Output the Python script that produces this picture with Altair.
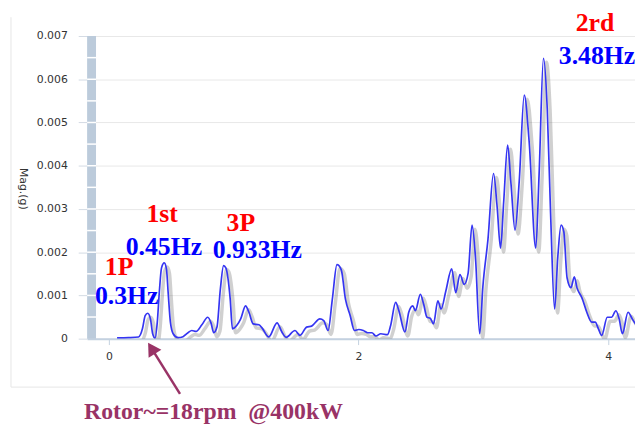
import altair as alt
import pandas as pd

# Spectrum (frequency in Hz, magnitude in g)
freq = [0.066, 0.158, 0.238, 0.269, 0.291, 0.311, 0.333, 0.351, 0.370, 0.388,
        0.404, 0.422, 0.444, 0.462, 0.475, 0.493, 0.515, 0.554, 0.594, 0.634,
        0.665, 0.699, 0.745, 0.792, 0.818, 0.840, 0.866, 0.893, 0.919, 0.937,
        0.972, 0.990, 1.024, 1.056, 1.095, 1.122, 1.156, 1.202, 1.228, 1.281,
        1.347, 1.386, 1.420, 1.491, 1.531, 1.584, 1.624, 1.690, 1.721, 1.756,
        1.790, 1.827, 1.861, 1.895, 1.933, 1.967, 2.002, 2.038, 2.073, 2.107,
        2.139, 2.178, 2.231, 2.257, 2.297, 2.323, 2.371, 2.402, 2.434, 2.455,
        2.495, 2.521, 2.548, 2.574, 2.600, 2.635, 2.661, 2.699, 2.746, 2.778,
        2.812, 2.846, 2.878, 2.909, 2.936, 2.970, 2.996, 3.036, 3.081, 3.110,
        3.137, 3.163, 3.194, 3.221, 3.253, 3.287, 3.327, 3.366, 3.419, 3.446,
        3.481, 3.511, 3.538, 3.570, 3.596, 3.622, 3.644, 3.670, 3.701, 3.728,
        3.749, 3.788, 3.828, 3.868, 3.895, 3.921, 3.947, 3.992, 4.026, 4.061,
        4.087, 4.113, 4.158, 4.192, 4.222]
mag = [0.000016, 0.000023, 0.000039, 0.000228, 0.000532, 0.000587, 0.000457, 0.000114, 0.000016, 0.000381,
       0.001066, 0.001637, 0.001751, 0.001598, 0.001066, 0.000381, 0.000114, 0.000023, 0.000046, 0.000137,
       0.000189, 0.000167, 0.000320, 0.000495, 0.000365, 0.000137, 0.000267, 0.001142, 0.001689, 0.001637,
       0.000913, 0.000228, 0.000304, 0.000457, 0.000760, 0.000610, 0.000342, 0.000320, 0.000244, 0.000039,
       0.000365, 0.000153, 0.000030, 0.000189, 0.000075, 0.000267, 0.000290, 0.000457, 0.000418, 0.000189,
       0.000913, 0.001712, 0.001598, 0.000913, 0.000532, 0.000189, 0.000212, 0.000189, 0.000137, 0.000137,
       0.000062, 0.000114, 0.000091, 0.000304, 0.000838, 0.000646, 0.000153, 0.000610, 0.000760, 0.000646,
       0.001027, 0.000799, 0.000495, 0.000473, 0.000342, 0.000874, 0.000685, 0.001103, 0.001614, 0.001066,
       0.001484, 0.001256, 0.001523, 0.002625, 0.001902, 0.000114, 0.001217, 0.002283, 0.003820, 0.003043,
       0.002094, 0.003196, 0.004475, 0.003577, 0.002511, 0.003653, 0.005632, 0.004566, 0.002094, 0.003806,
       0.006484, 0.005326, 0.002893, 0.000685, 0.001902, 0.002625, 0.002473, 0.001409, 0.001180, 0.001431,
       0.001180, 0.000952, 0.000610, 0.000381, 0.000381, 0.000228, 0.000075, 0.000495, 0.000495, 0.000646,
       0.000457, 0.000114, 0.000610, 0.000457, 0.000320]

y_ticks = [0, 0.001, 0.002, 0.003, 0.004, 0.005, 0.006, 0.007]
x_ticks = [0, 2, 4]
bar_marks = [0.0005, 0.001, 0.0015, 0.002, 0.0025, 0.003, 0.0035, 0.004,
             0.0045, 0.005, 0.0055, 0.006, 0.0065]

# Annotations
ann_text = ["1P", "0.3Hz", "1st", "0.45Hz", "3P", "0.933Hz", "2rd", "3.48Hz"]
ann_x = [-0.032, -0.111, 0.301, 0.135, 0.943, 0.832, 3.739, 3.604]
ann_y = [0.001480, 0.000799, 0.002700, 0.001941, 0.002500, 0.001872, 0.007123, 0.006347]
ann_color = ["#ff0000", "#0000ff", "#ff0000", "#0000ff", "#ff0000", "#0000ff", "#ff0000", "#0000ff"]

note_text = ["Rotor~=18rpm\u00a0\u00a0@400kW"]
note_x = [-0.198]
note_y = [-0.001860]

arrow_x = [0.570, 0.342]
arrow_y = [-0.001279, -0.000224]

W, H = 554, 306
x_scale = alt.Scale(domain=[-0.174, 4.214], nice=False, zero=False)
y_scale = alt.Scale(domain=[0, 0.007], nice=False, zero=False)

df = pd.DataFrame({"freq": freq, "mag": mag})
one = pd.DataFrame({"a": [0]})

x_axis = alt.Axis(values=x_ticks, grid=False, domainColor="#c3d1e0", domainWidth=2,
                  tickColor="#c3d1e0", tickSize=6, labelFont="DejaVu Sans", labelFontSize=11,
                  labelColor="#333333", labelPadding=6, title=None, labelFlush=False)
y_axis = alt.Axis(values=y_ticks, grid=True, gridColor="#e8e8e8", domain=False,
                  tickColor="#d3dbe4", tickSize=9, labelFont="DejaVu Sans", labelFontSize=11,
                  labelColor="#333333", labelPadding=11,
                  labelExpr="datum.value == 0 ? '0' : format(datum.value, '.3f')",
                  title="Mag.(g)", titleAngle=90, titleX=-65, titleY=154,
                  titleAlign="center", titleBaseline="middle", titleFont="DejaVu Sans",
                  titleFontSize=11, titleFontWeight="normal", titleColor="#333333")


def X(field):
    return alt.X(field, scale=x_scale, axis=x_axis)


def Y(field):
    return alt.Y(field, scale=y_scale, axis=y_axis)


frame_v = alt.Chart(one).mark_rule(color="#e6e6e6", strokeWidth=1).encode(
    x=alt.value(-77), y=alt.value(-19), y2=alt.value(355))
frame_h = alt.Chart(one).mark_rule(color="#e6e6e6", strokeWidth=1).encode(
    x=alt.value(-77), x2=alt.value(W), y=alt.value(355))

bar = alt.Chart(one).mark_rect(color="#bccbdb").encode(
    x=alt.value(0), x2=alt.value(9), y=alt.value(0), y2=alt.value(H))
bar_sep = alt.Chart(pd.DataFrame({"v": bar_marks})).mark_rule(color="white", strokeWidth=1.5).encode(
    y=Y("v:Q"), x=alt.value(0), x2=alt.value(9))

shadow = alt.Chart(df).mark_line(color="#555555", opacity=0.28, strokeWidth=3.5, xOffset=3, yOffset=4,
                                 interpolate="monotone", clip=True).encode(
    x=X("freq:Q"), y=Y("mag:Q"))
line = alt.Chart(df).mark_line(color="#3535f2", strokeWidth=1.7, interpolate="monotone", clip=True).encode(
    x=X("freq:Q"), y=Y("mag:Q"))

ann_df = pd.DataFrame({"t": ann_text, "x": ann_x, "y": ann_y, "c": ann_color})
ann = alt.Chart(ann_df).mark_text(align="left", baseline="alphabetic", font="Liberation Serif",
                                  fontWeight="bold", fontSize=26).encode(
    x=X("x:Q"), y=Y("y:Q"), text="t:N", color=alt.Color("c:N", scale=None))

note = alt.Chart(pd.DataFrame({"t": note_text, "x": note_x, "y": note_y})).mark_text(
    align="left", baseline="alphabetic", font="Liberation Serif", fontWeight="bold",
    fontSize=24, color="#993366").encode(x=X("x:Q"), y=Y("y:Q"), text="t:N")

arrow_df = pd.DataFrame({"x": arrow_x, "y": arrow_y})
arrow_line = alt.Chart(arrow_df).mark_line(color="#993366", strokeWidth=2.5).encode(
    x=X("x:Q"), y=Y("y:Q"))
arrow_head = alt.Chart(arrow_df.iloc[[1]]).mark_point(shape="triangle-up", filled=True, size=230,
                                                     angle=328, color="#993366", opacity=1).encode(
    x=X("x:Q"), y=Y("y:Q"))

chart = alt.layer(frame_v, frame_h, bar, bar_sep, shadow, line, ann, note,
                  arrow_line, arrow_head).properties(
    width=W, height=H,
    autosize=alt.AutoSizeParams(type="none"),
    padding={"left": 80, "top": 26, "right": 0, "bottom": 87},
    background="white",
).configure_view(stroke=None)

chart.save("out.html", embed_options={"renderer": "svg", "actions": False})
